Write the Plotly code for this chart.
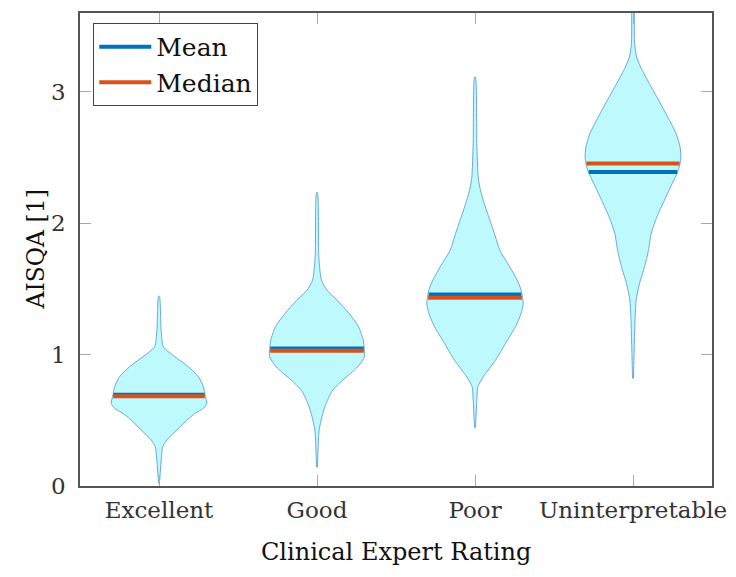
import numpy as np
import plotly.graph_objects as go

categories = ["Excellent", "Good", "Poor", "Uninterpretable"]

# Violin profiles: y values and half-widths (x units)
exc_y = [0.02, 0.223, 0.299, 0.35, 0.426, 0.502, 0.553, 0.591, 0.629, 0.684, 0.755, 0.831, 0.907, 0.983, 1.059, 1.186, 1.445]
exc_w = [0.0, 0.0127, 0.021, 0.046, 0.11, 0.173, 0.226, 0.278, 0.3, 0.29, 0.278, 0.247, 0.184, 0.099, 0.025, 0.0105, 0.0]

good_y = [0.142, 0.426, 0.553, 0.629, 0.73, 0.806, 0.907, 0.983, 1.047, 1.11, 1.212, 1.313, 1.414, 1.49, 1.567, 1.744, 2.233]
good_w = [0.0, 0.0105, 0.034, 0.055, 0.097, 0.16, 0.255, 0.297, 0.296, 0.29, 0.26, 0.2, 0.125, 0.06, 0.025, 0.0085, 0.0]

poor_y = [0.444, 0.654, 0.755, 0.831, 0.958, 1.086, 1.212, 1.313, 1.389, 1.49, 1.567, 1.668, 1.795, 1.922, 2.048, 2.175, 2.276, 2.352, 2.606, 3.113]
poor_w = [0.0, 0.0085, 0.015, 0.049, 0.127, 0.19, 0.253, 0.289, 0.302, 0.289, 0.264, 0.217, 0.154, 0.12, 0.084, 0.049, 0.027, 0.017, 0.0085, 0.0]

unint_y = [0.819, 1.288, 1.414, 1.541, 1.668, 1.795, 1.922, 2.048, 2.175, 2.302, 2.39, 2.454, 2.504, 2.58, 2.682, 2.808, 2.935, 3.062, 3.189, 3.265, 3.366, 3.8]
unint_w = [0.0, 0.0105, 0.017, 0.038, 0.07, 0.095, 0.112, 0.148, 0.196, 0.245, 0.28, 0.295, 0.3, 0.295, 0.27, 0.217, 0.16, 0.101, 0.045, 0.02, 0.007, 0.0]

means = [0.694, 1.047, 1.458, 2.39]
medians = [0.684, 1.029, 1.432, 2.454]

y_ticks = [0, 1, 2, 3]

profiles = [(exc_y, exc_w), (good_y, good_w), (poor_y, poor_w), (unint_y, unint_w)]

FILL = "rgb(190,249,254)"
EDGE = "rgb(108,168,220)"
BLUE = "#0072BD"
ORANGE = "#D95319"
FONT = "DejaVu Serif"

fig = go.Figure()

for i, (py, pw) in enumerate(profiles):
    c = i + 1
    py = np.array(py)
    pw = np.array(pw) + 0.003
    xs = np.concatenate([c + pw, (c - pw)[::-1]])
    ys = np.concatenate([py, py[::-1]])
    fig.add_trace(go.Scatter(x=xs, y=ys, mode="lines", fill="toself",
                             fillcolor=FILL, line=dict(color=EDGE, width=1, shape="spline", smoothing=0.6),
                             showlegend=False, hoverinfo="skip"))

def seg_trace(vals, name, color):
    xs, ys = [], []
    for i, v in enumerate(vals):
        py, pw = profiles[i]
        w = float(np.interp(v, py, pw))
        xs += [i + 1 - w, i + 1 + w, None]
        ys += [v, v, None]
    return go.Scatter(x=xs, y=ys, mode="lines", name=name,
                      line=dict(color=color, width=4))

fig.add_trace(seg_trace(means, "Mean", BLUE))
fig.add_trace(seg_trace(medians, "Median", ORANGE))

fig.update_layout(
    width=728, height=569,
    margin=dict(l=72, r=24, t=5, b=91),
    paper_bgcolor="white", plot_bgcolor="white",
    font=dict(family=FONT, size=23, color="#222"),
    showlegend=True,
    legend=dict(x=0.021, y=0.979, xanchor="left", yanchor="top",
                bordercolor="#444", borderwidth=1, bgcolor="white",
                font=dict(family=FONT, size=25, color="#111"),
                itemwidth=52, tracegroupgap=0),
    annotations=[
        dict(text="Clinical Expert Rating", xref="paper", yref="paper", x=0.5, y=-0.1395,
             xanchor="center", yanchor="middle", showarrow=False,
             font=dict(family=FONT, size=24, color="#111")),
        dict(text="AISQA [1]", xref="paper", yref="paper", x=-0.0712, y=0.5,
             xanchor="center", yanchor="middle", showarrow=False, textangle=-90,
             font=dict(family=FONT, size=23.5, color="#111")),
    ],
)
fig.update_xaxes(range=[0.5, 4.5], tickvals=[1, 2, 3, 4], ticktext=categories,
                 showline=True, linecolor="#555", linewidth=1.5, mirror="ticks",
                 ticks="inside", ticklen=11, tickcolor="#aaa", tickwidth=1,
                 showgrid=False, zeroline=False, automargin=False,
                 ticklabelstandoff=3, tickfont=dict(size=23, color="#333"))
fig.update_yaxes(range=[0, 3.6], tickvals=y_ticks,
                 showline=True, linecolor="#555", linewidth=1.5, mirror="ticks",
                 ticks="inside", ticklen=11, tickcolor="#aaa", tickwidth=1,
                 showgrid=False, zeroline=False, automargin=False,
                 ticklabelstandoff=8, tickfont=dict(size=23, color="#333"))

fig.write_html("out.html")
